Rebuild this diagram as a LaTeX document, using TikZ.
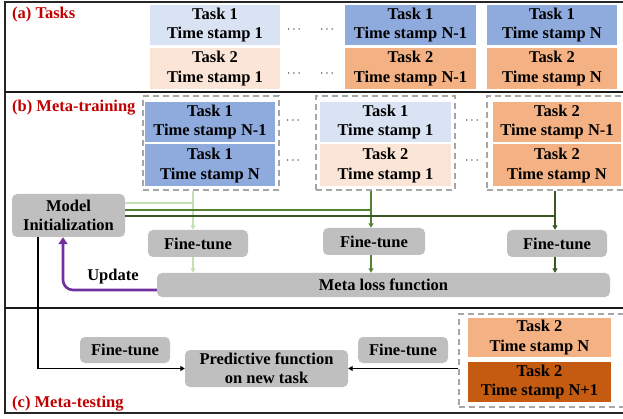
\documentclass[tikz,border=0pt]{standalone}
\usepackage{fontspec}
\setmainfont{Liberation Serif}
\usetikzlibrary{arrows.meta,calc}
\definecolor{lblue}{HTML}{DAE3F3}
\definecolor{lorange}{HTML}{FBE5D6}
\definecolor{mblue}{HTML}{8FAADC}
\definecolor{morange}{HTML}{F4B183}
\definecolor{dorange}{HTML}{C55A11}
\definecolor{gbg}{HTML}{BFBFBF}
\definecolor{titlered}{HTML}{C00000}
\definecolor{glight}{HTML}{C5E0B4}
\definecolor{gmed}{HTML}{548235}
\definecolor{gdark}{HTML}{385723}
\definecolor{upurple}{HTML}{7030A0}
\definecolor{dashgray}{HTML}{A6A6A6}
\begin{document}
\begin{tikzpicture}[x=1pt,y=-1pt,
  txt/.style={font=\fontsize{16.5}{19.5}\selectfont\bfseries},
  taskbox/.style={txt,minimum width=130pt,minimum height=40pt,inner sep=0pt,align=center},
  gbox/.style={txt,fill=gbg,rounded corners=5pt,inner sep=0pt,align=center},
  dbox/.style={draw=dashgray,dashed,dash pattern=on 6pt off 4pt,line width=1.3pt,inner sep=0pt},
  dotsnode/.style={inner sep=0pt,font=\fontsize{13}{13}\selectfont},
  title/.style={font=\fontsize{16.5}{19}\selectfont\bfseries,text=titlered,anchor=base west,inner sep=0pt},
  tip/.style={-{Triangle[width=5pt,length=4.5pt]}},
  frameline/.style={line width=1.3pt,black!85}
]
\useasboundingbox (0,0) rectangle (623,419);
% frame
\draw[frameline] (625,2) -- (5,2) -- (5,413) -- (625,413);
\draw[line width=1.8pt,black!90] (5,92) -- (625,92);
\draw[line width=1.5pt,black!90] (5,308) -- (625,308);

% (a) Tasks
\node[title] (ta) at (12,19) {(a) Tasks};
\node[taskbox,fill=lblue] (a1) at (215,25) {Task 1\\Time stamp 1};
\node[taskbox,fill=lorange,minimum height=41pt] (a2) at (215,68.5) {Task 2\\Time stamp 1};
\node[taskbox,fill=mblue,minimum width=131pt] (a3) at (410.5,25) {Task 1\\Time stamp N-1};
\node[taskbox,fill=morange,minimum width=131pt,minimum height=41pt] (a4) at (410.5,68.5) {Task 2\\Time stamp N-1};
\node[taskbox,fill=mblue] (a5) at (552,25) {Task 1\\Time stamp N};
\node[taskbox,fill=morange,minimum height=41pt] (a6) at (552,68.5) {Task 2\\Time stamp N};
\node[dotsnode] (ad1) at (294,30) {$\cdots$};
\node[dotsnode] (ad2) at (327,30) {$\cdots$};
\node[dotsnode] (ad3) at (294,74) {$\cdots$};
\node[dotsnode] (ad4) at (327,74) {$\cdots$};

% (b) Meta-training
\node[title] (tb) at (12,112) {(b) Meta-training};
\node[dbox,minimum width=136pt,minimum height=94pt] (db1) at (211,143) {};
\node[dbox,minimum width=139pt,minimum height=94pt] (db2) at (385.5,143) {};
\node[dbox,minimum width=140pt,minimum height=94pt] (db3) at (557,143) {};
\node[taskbox,fill=mblue] (b1) at (210,122) {Task 1\\Time stamp N-1};
\node[taskbox,fill=mblue,minimum height=42pt] (b2) at (210,165.5) {Task 1\\Time stamp N};
\node[taskbox,fill=lblue,minimum width=131pt] (b3) at (385.5,122) {Task 1\\Time stamp 1};
\node[taskbox,fill=lorange,minimum width=131pt,minimum height=42pt] (b4) at (385.5,165.5) {Task 2\\Time stamp 1};
\node[taskbox,fill=morange,minimum width=128pt] (b5) at (557,122) {Task 2\\Time stamp N-1};
\node[taskbox,fill=morange,minimum width=128pt,minimum height=42pt] (b6) at (557,165.5) {Task 2\\Time stamp N};
\node[dotsnode] (bd1) at (293,121) {$\cdots$};
\node[dotsnode] (bd2) at (293,161) {$\cdots$};
\node[dotsnode] (bd3) at (472,121) {$\cdots$};
\node[dotsnode] (bd4) at (472,161) {$\cdots$};

\node[gbox,minimum width=113pt,minimum height=43pt] (mi) at (68.5,215.5) {Model\\Initialization};
\node[gbox,minimum width=100pt,minimum height=27pt] (ft1) at (198,243.5) {Fine-tune};
\node[gbox,minimum width=102pt,minimum height=27pt] (ft2) at (374,241.5) {Fine-tune};
\node[gbox,minimum width=100pt,minimum height=27pt] (ft3) at (557,243.5) {Fine-tune};
\node[gbox,minimum width=453pt,minimum height=24pt] (ml) at (383.5,285) {Meta loss function};
\node[txt,inner sep=0pt] (upd) at (113,277) {Update};

\coordinate (j1) at (193,203);
\coordinate (j2) at (371,210);
\coordinate (j3) at (555,216);
% light green
\draw[glight,line width=1.4pt] (mi.east |- j1) -- (j1);
\draw[glight,line width=1.4pt] (db1.south -| j1) -- (j1);
\draw[glight,line width=1.4pt,tip] (j1) -- (j1 |- ft1.north);
\draw[glight,line width=1.4pt,tip] (j1 |- ft1.south) -- (j1 |- ml.north);
% medium green
\draw[gmed,line width=1.5pt] (mi.east |- j2) -- (j2);
\draw[gmed,line width=1.5pt] (db2.south -| j2) -- (j2);
\draw[gmed,line width=1.5pt,tip] (j2) -- (j2 |- ft2.north);
\draw[gmed,line width=1.5pt,tip] (j2 |- ft2.south) -- (j2 |- ml.north);
% dark green
\draw[gdark,line width=1.5pt] (mi.east |- j3) -- (j3);
\draw[gdark,line width=1.5pt] (db3.south -| j3) -- (j3);
\draw[gdark,line width=1.5pt,tip] (j3) -- (j3 |- ft3.north);
\draw[gdark,line width=1.5pt,tip] (j3 |- ft3.south) -- (j3 |- ml.north);
% update
\draw[upurple,line width=2.6pt,rounded corners=10pt,-{Triangle[width=9pt,length=7pt]}] ([yshift=-5pt]ml.west) -| ([xshift=-5.5pt]mi.south);

% (c) Meta-testing
\node[title] (tc) at (12,407) {(c) Meta-testing};
\node[gbox,minimum width=163pt,minimum height=37pt] (pf) at (266.5,368.5) {Predictive function\\on new task};
\node[gbox,minimum width=90pt,minimum height=26pt] (fc1) at (125,350) {Fine-tune};
\node[gbox,minimum width=90pt,minimum height=26pt] (fc2) at (403,350) {Fine-tune};
\node[dbox,minimum width=166pt,minimum height=93pt] (dbc) at (542,360.5) {};
\node[taskbox,fill=morange,minimum width=143pt,minimum height=39pt] (c1) at (539.5,337.5) {Task 2\\Time stamp N};
\node[taskbox,fill=dorange,minimum width=143pt,minimum height=40pt] (c2) at (539.5,382) {Task 2\\Time stamp N+1};
\draw[black,line width=1.6pt,tip] ([xshift=-30.5pt]mi.south) |- (pf.west);
\draw[black,line width=1.6pt,tip] (dbc.west |- pf.east) -- (pf.east);
\end{tikzpicture}
\end{document}
